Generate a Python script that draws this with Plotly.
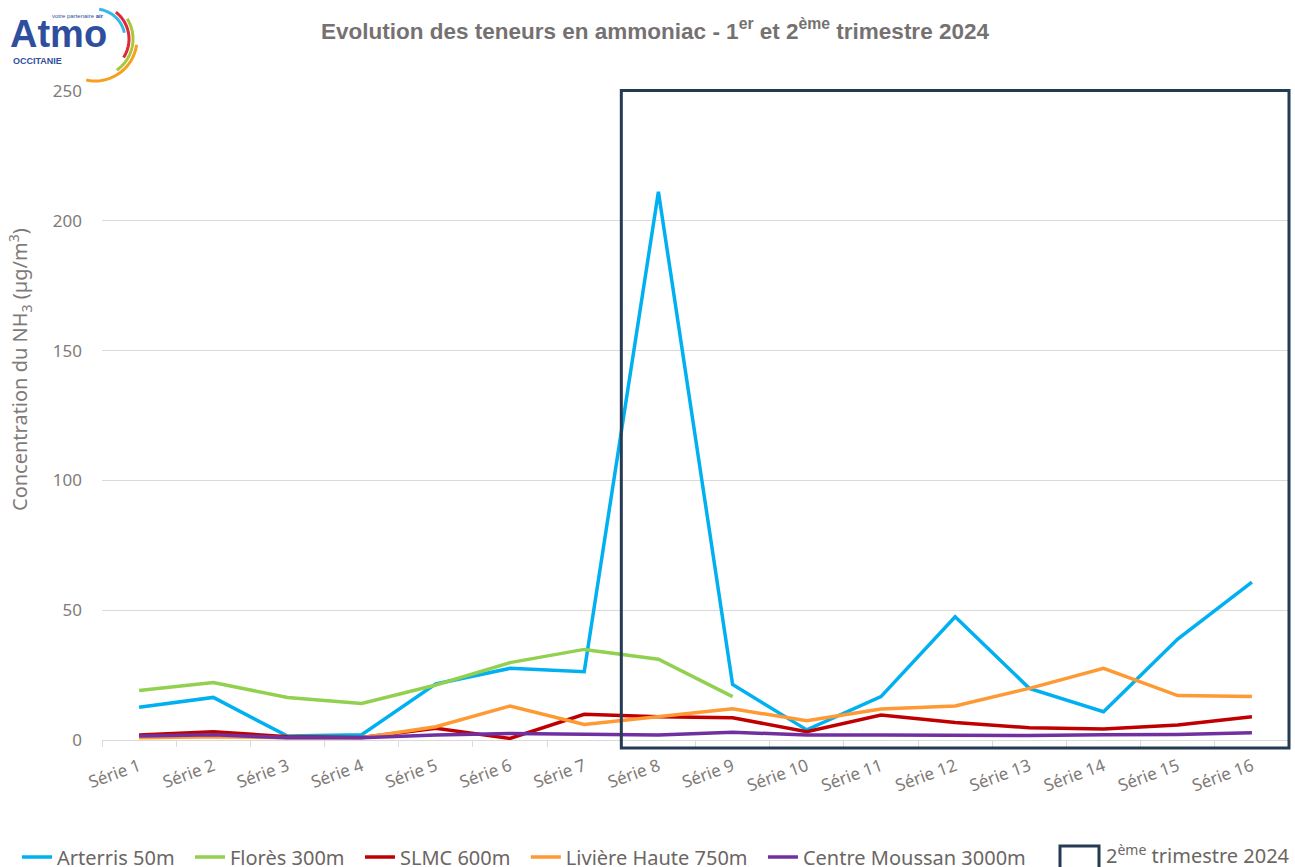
import numpy as np
import plotly.graph_objects as go

categories = [f"Série {i}" for i in range(1, 17)]

arterris = [12.6, 16.4, 1.5, 2.0, 21.6, 27.6, 26.3, 211.2, 21.4, 3.9, 16.7, 47.5, 19.9, 10.9, 38.9, 60.8]
flores = [19.1, 22.1, 16.4, 14.1, 21.2, 29.8, 34.9, 31.1, 16.7, None, None, None, None, None, None, None]
slmc = [1.9, 3.2, 1.3, 1.0, 4.5, 0.6, 9.9, 9.0, 8.6, 3.2, 9.6, 6.7, 4.7, 4.2, 5.8, 9.0]
liviere = [0.9, 1.3, 0.9, 0.9, 5.1, 13.1, 6.0, 9.0, 12.0, 7.4, 11.9, 13.1, 19.9, 27.6, 17.1, 16.8]
moussan = [1.5, 2.0, 0.9, 0.9, 1.9, 2.5, 2.2, 1.9, 3.0, 1.9, 1.9, 1.7, 1.7, 2.0, 2.1, 2.8]

series_names = ["Arterris 50m", "Florès 300m", "SLMC 600m", "Livière Haute 750m", "Centre Moussan 3000m"]
series_values = [arterris, flores, slmc, liviere, moussan]
series_colors = ["#00b0f0", "#92d050", "#c00000", "#ff9933", "#7030a0"]

W, H = 1295, 867
L, R, T, B = 102, 6, 91, 127
PW, PH = W - L - R, H - T - B


def px(x):
    return (x - L) / PW


def py(y):
    return (H - B - y) / PH


fig = go.Figure()
for name, vals, col in zip(series_names, series_values, series_colors):
    fig.add_trace(go.Scatter(
        x=categories, y=vals, name=name + "\u00a0\u00a0", mode="lines",
        line=dict(color=col, width=3.5), connectgaps=False,
    ))

text_col = "#6b6663"
tick_col = "#7f7b78"
box_col = "#243b53"

shapes = []
# 2nd quarter box (from boundary between Série 7 and Série 8 to the right edge)
shapes.append(dict(type="rect", xref="paper", yref="paper",
                   x0=7 / 16, x1=1.0, y0=py(748), y1=py(90.5),
                   line=dict(color=box_col, width=3), fillcolor="rgba(0,0,0,0)", layer="above"))
# legend box symbol
shapes.append(dict(type="rect", xref="paper", yref="paper",
                   x0=px(1060), x1=px(1099), y0=py(885), y1=py(846),
                   line=dict(color=box_col, width=3), fillcolor="white", layer="above"))

# logo arcs
cx, cy = 95, 39
arcs = [(30, -82, -12, "#35b8e8"), (34, -52, 33, "#e0263a"), (38, -32, 55, "#a8c83a"), (42, 8, 102, "#f5a021")]
for r, a0, a1, col in arcs:
    ang = np.radians(np.linspace(a0, a1, 30))
    xs = cx + r * np.cos(ang)
    ys = cy + r * np.sin(ang)
    path = "M " + " L ".join(f"{px(x):.5f},{py(y):.5f}" for x, y in zip(xs, ys))
    shapes.append(dict(type="path", xref="paper", yref="paper", path=path,
                       line=dict(color=col, width=3)))

annotations = [
    dict(text="Concentration du NH<sub>3</sub> (µg/m<sup>3</sup>)", xref="paper", yref="paper",
         x=px(20), y=py(370), xanchor="center", yanchor="middle", textangle=-90, showarrow=False,
         font=dict(family="Noto Sans, Open Sans, sans-serif", size=20, color=tick_col)),
    dict(text="2<sup>ème</sup> trimestre 2024", xref="paper", yref="paper",
         x=px(1104), y=py(854), xanchor="left", yanchor="middle", showarrow=False,
         font=dict(family="Noto Sans, Open Sans, sans-serif", size=20, color=text_col)),
    dict(text="<b>Atmo</b>", xref="paper", yref="paper", x=px(8), y=py(57),
         xanchor="left", yanchor="bottom", showarrow=False,
         font=dict(family="Liberation Sans, Arial, sans-serif", size=38, color="#2f4f9e")),
    dict(text="<b>OCCITANIE</b>", xref="paper", yref="paper", x=px(11), y=py(61),
         xanchor="left", yanchor="middle", showarrow=False,
         font=dict(family="Liberation Sans, Arial, sans-serif", size=9, color="#2f4f9e")),
    dict(text="votre partenaire <b>air</b>", xref="paper", yref="paper", x=px(50), y=py(16),
         xanchor="left", yanchor="middle", showarrow=False,
         font=dict(family="Liberation Sans, Arial, sans-serif", size=6, color="#2f4f9e")),
]

fig.update_layout(
    width=W, height=H,
    margin=dict(l=L, r=R, t=T, b=B, autoexpand=False),
    paper_bgcolor="white", plot_bgcolor="white",
    title=dict(text="<b>Evolution des teneurs en ammoniac - 1<sup>er</sup> et 2<sup>ème</sup> trimestre 2024</b>",
               x=655 / W, xanchor="center", y=1 - 31 / H, yanchor="middle",
               font=dict(family="Liberation Sans Narrow, Arial Narrow, Liberation Sans, sans-serif",
                         size=22.5, color="#767171")),
    xaxis=dict(type="category", tickangle=-20, tickson="boundaries", ticks="outside", ticklen=6,
               tickcolor="#d9d9d9", showline=True, linecolor="#d9d9d9", linewidth=1,
               showgrid=False, range=[-0.5, 15.5], ticklabelstandoff=9,
               tickfont=dict(family="Noto Sans, Open Sans, sans-serif", size=17, color=tick_col)),
    yaxis=dict(range=[0, 250], dtick=50, showgrid=True, gridcolor="#d9d9d9", gridwidth=1,
               zeroline=False, showline=False, ticks="", ticklabelstandoff=19,
               tickfont=dict(family="Noto Sans, Open Sans, sans-serif", size=17, color=tick_col)),
    legend=dict(orientation="h", x=px(17), xanchor="left", y=py(857), yanchor="middle",
                font=dict(family="Noto Sans, Open Sans, sans-serif", size=20, color=text_col),
                bgcolor="rgba(0,0,0,0)", itemwidth=30, tracegroupgap=0),
    shapes=shapes,
    annotations=annotations,
)

fig.write_html("out.html", config={"displayModeBar": False},
               post_script="document.body.style.margin='0';document.body.style.overflow='hidden';")
